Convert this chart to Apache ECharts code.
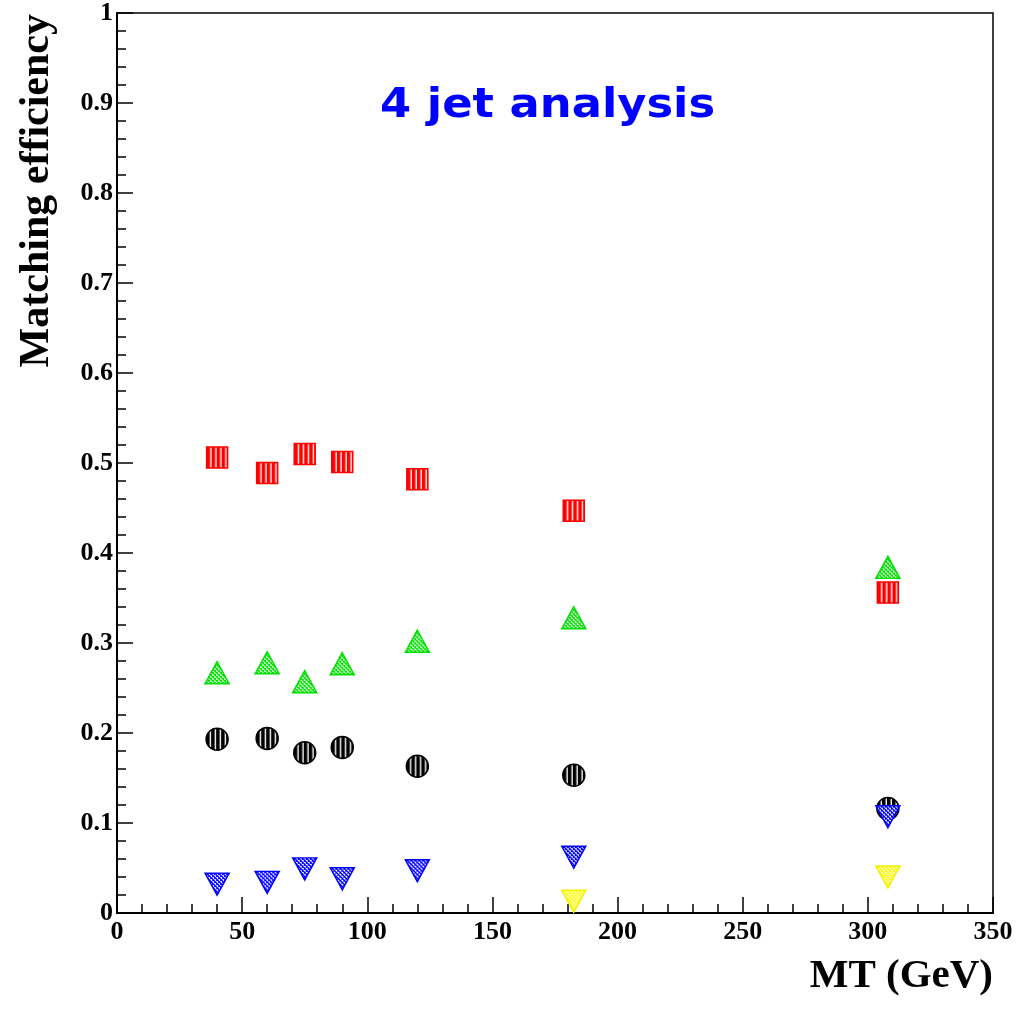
<!DOCTYPE html>
<html><head><meta charset="utf-8">
<script src="https://cdn.jsdelivr.net/npm/echarts@6/dist/echarts.min.js"></script>
<style>html,body{margin:0;padding:0;background:#fff;}#c{width:1023px;height:1017px;}</style>
</head><body><div id="c"></div>
<script>
// x positions (MT in GeV) and efficiencies
const mtMain = [40, 60, 75, 90, 120, 182.5, 308];
const redSquares = [0.506, 0.489, 0.510, 0.501, 0.482, 0.447, 0.356];
const greenTriangles = [0.267, 0.278, 0.257, 0.277, 0.302, 0.328, 0.384];
const blackCircles = [0.193, 0.194, 0.178, 0.184, 0.163, 0.153, 0.116];
const blueTriangles = [0.032, 0.034, 0.049, 0.038, 0.047, 0.062, 0.107];
const mtYellow = [182.5, 308];
const yellowTriangles = [0.013, 0.040];
const xTicks = [0, 50, 100, 150, 200, 250, 300, 350];
const yTicks = [0, 0.1, 0.2, 0.3, 0.4, 0.5, 0.6, 0.7, 0.8, 0.9, 1];

// patterns (symbol paths are drawn in a 2x2 local box, so compensate scale)
function pattern(color, w, h, sw, sh, draw) {
  const c = document.createElement('canvas');
  c.width = w; c.height = h;
  const g = c.getContext('2d');
  g.fillStyle = '#fff'; g.fillRect(0, 0, w, h);
  g.fillStyle = color;
  draw(g);
  return { image: c, repeat: 'repeat', scaleX: 2 / sw, scaleY: 2 / sh, x: -1, y: -1 };
}
const vStripe = (col, s) => pattern(col, 5, 5, s, s, g => { g.fillRect(0, 0, 3.6, 5); });
const hatch = (col, sw, sh) => pattern(col, 4, 4, sw, sh, g => {
  g.fillRect(0, 0, 2, 1); g.fillRect(1, 1, 2, 1); g.fillRect(2, 2, 2, 1); g.fillRect(3, 3, 1, 1); g.fillRect(0, 3, 1, 1); g.fillRect(0, 2, 1, 1); g.fillRect(2, 0, 1, 1);
});

function pts(xs, ys) { return xs.map((x, i) => [x, ys[i]]); }

const tickFont = { fontFamily: 'Liberation Serif', fontWeight: 'bold', fontSize: 26, color: '#000' };

const chart = echarts.init(document.getElementById('c'), null, { renderer: 'canvas' });
chart.setOption({
  animation: false,
  backgroundColor: '#fff',
  grid: { left: 117, right: 30, top: 12, bottom: 104, show: true, borderColor: '#000', borderWidth: 1.5 },
  xAxis: {
    type: 'value', min: 0, max: 350, interval: 50,
    axisLine: { show: true, onZero: false, lineStyle: { color: '#000', width: 2 } },
    axisTick: { show: true, inside: true, length: 16, lineStyle: { color: '#000', width: 1.5 } },
    minorTick: { show: true, splitNumber: 5, length: 9, lineStyle: { color: '#000', width: 1.5 } },
    splitLine: { show: false },
    axisLabel: Object.assign({ margin: 6, formatter: v => xTicks.includes(v) ? String(v) : '' }, tickFont)
  },
  yAxis: {
    type: 'value', min: 0, max: 1, interval: 0.1,
    axisLine: { show: true, onZero: false, lineStyle: { color: '#000', width: 2 } },
    axisTick: { show: true, inside: true, length: 16, lineStyle: { color: '#000', width: 1.5 } },
    minorTick: { show: true, splitNumber: 5, length: 9, lineStyle: { color: '#000', width: 1.5 } },
    splitLine: { show: false },
    axisLabel: Object.assign({ margin: 4, formatter: v => {
      const t = yTicks.find(y => Math.abs(y - v) < 1e-6);
      if (t === undefined) return '';
      return (t === 0 || t === 1) ? String(t) : t.toFixed(1);
    } }, tickFont)
  },
  graphic: [
    { type: 'text', x: 380, y: 107, scaleX: 1.12, style: { text: '4 jet analysis', font: 'bold 40px "DejaVu Sans"', fill: '#0000ff', textVerticalAlign: 'middle' } },
    { type: 'text', x: 37, y: 14, rotation: Math.PI / 2, style: { text: 'Matching efficiency', font: 'bold 42px "Liberation Serif"', fill: '#000', textAlign: 'right', textVerticalAlign: 'middle' } },
    { type: 'text', x: 993, y: 976, style: { text: 'MT (GeV)', font: 'bold 41px "Liberation Serif"', fill: '#000', textAlign: 'right', textVerticalAlign: 'middle' } }
  ],
  series: [
    { name: 'red', type: 'scatter', symbol: 'rect', symbolSize: 21, data: pts(mtMain, redSquares),
      itemStyle: { color: vStripe('#ff0000', 21), borderColor: '#ff0000', borderWidth: 1.5, opacity: 1 } },
    { name: 'green', type: 'scatter', symbol: 'triangle', symbolSize: [24, 22], data: pts(mtMain, greenTriangles),
      itemStyle: { color: hatch('#00e000', 24, 22), borderColor: '#00e000', borderWidth: 1.5, opacity: 1 } },
    { name: 'black', type: 'scatter', symbol: 'circle', symbolSize: 22, data: pts(mtMain, blackCircles),
      itemStyle: { color: vStripe('#000000', 22), borderColor: '#000', borderWidth: 1.5, opacity: 1 } },
    { name: 'blue', type: 'scatter', symbol: 'triangle', symbolRotate: 180, symbolSize: [24, 22], data: pts(mtMain, blueTriangles),
      itemStyle: { color: hatch('#0000ff', 24, 22), borderColor: '#0000ff', borderWidth: 1.5, opacity: 1 } },
    { name: 'yellow', type: 'scatter', symbol: 'triangle', symbolRotate: 180, symbolSize: [24, 22], data: pts(mtYellow, yellowTriangles),
      itemStyle: { color: hatch('#ffff00', 24, 22), borderColor: '#f0f000', borderWidth: 1.5, opacity: 1 } }
  ]
});
</script></body></html>
